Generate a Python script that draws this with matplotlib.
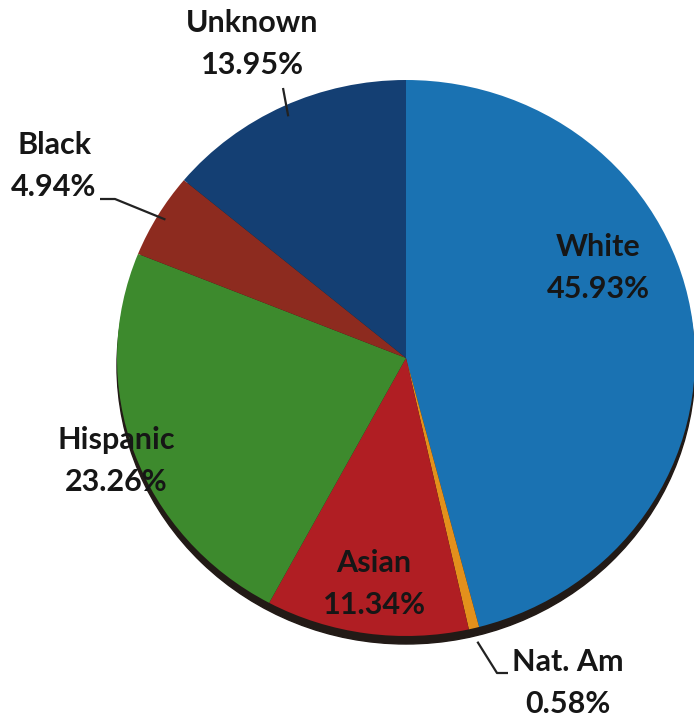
import numpy as np
import matplotlib.pyplot as plt
from matplotlib.patches import Ellipse

# Share of each group (%)
groups = ['White', 'Nat. Am', 'Asian', 'Hispanic', 'Black', 'Unknown']
shares = [45.93, 0.58, 11.34, 23.26, 4.94, 13.95]
colors = ['#1a72b2', '#e3901c', '#b01e23', '#3d8a2d', '#8d2b1f', '#143f73']

W, H = 694, 720
CX, CY = 406, 358      # pie centre (pixels)
RX, RY = 289, 278      # pie radii (pixels), slightly squashed

fig = plt.figure(figsize=(W / 100, H / 100), dpi=100)
ax = fig.add_axes([0, 0, 1, 1])


def to_data(x, y):
    return (x - CX) / RX, (CY - y) / RY


# dark rim under the pie
ax.add_patch(Ellipse((0, -8 / RY), 2, 2, color='#221a16', zorder=0))

wedges, _ = ax.pie(shares, colors=colors, startangle=90, counterclock=False,
                   radius=1, wedgeprops=dict(linewidth=0))

ax.set_xlim(-CX / RX, (W - CX) / RX)
ax.set_ylim(-(H - CY) / RY, CY / RY)
ax.set_aspect('auto')
ax.axis('off')

# label block centres (pixels)
label_pos = {
    'White': (598, 268),
    'Nat. Am': (568, 683),
    'Asian': (374, 584),
    'Hispanic': (116, 461),
    'Black': (54, 166),
    'Unknown': (252, 44),
}

for name, val in zip(groups, shares):
    x, y = to_data(*label_pos[name])
    ax.text(x, y, f'{name}\n{val:.2f}%', ha='center', va='center',
            fontsize=22, fontweight='bold', family='Lato', color='#161616',
            linespacing=1.65)

# mid angle of each wedge, degrees
cum = np.cumsum(shares)
mid = {g: 90 - 360 * (c - s / 2) / 100 for g, c, s in zip(groups, cum, shares)}


def edge(name, r=1.0):
    a = np.radians(mid[name])
    return r * np.cos(a), r * np.sin(a)


def leader(name, r, *bends):
    pts = [edge(name, r)] + [to_data(*b) for b in bends]
    xs, ys = zip(*pts)
    ax.plot(xs, ys, color='#222222', lw=1.6, solid_capstyle='butt')


leader('Unknown', 0.96, (283, 88))
leader('Black', 0.97, (115, 199), (100, 199))
leader('Nat. Am', 1.05, (497, 673), (508, 673))

fig.savefig('out.png', dpi=100)
